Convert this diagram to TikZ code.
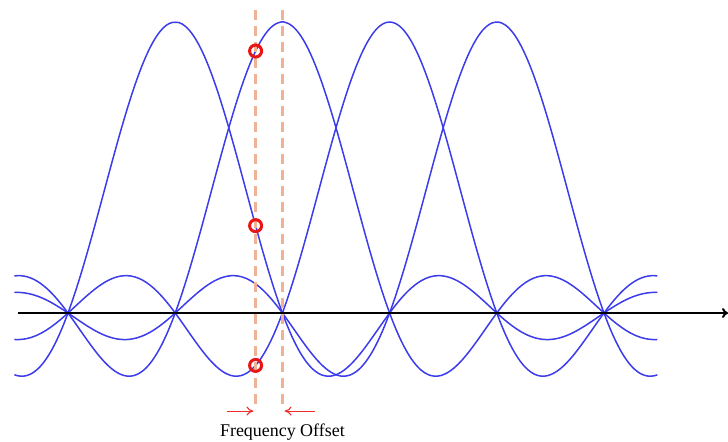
\documentclass[tikz,border=0pt]{standalone}
\usepackage{fontspec}
\setmainfont{Liberation Serif}
\usepackage{tikz}
\usetikzlibrary{arrows.meta}

\definecolor{carrierblue}{RGB}{60,60,235}
\definecolor{offsetorange}{RGB}{240,178,148}
\definecolor{markred}{RGB}{235,20,20}

\begin{document}
\begin{tikzpicture}[
        x=107.2bp, y=291bp,
        font=\fontsize{18}{21}\selectfont,
        carrier/.style={draw=carrierblue, line width=1.5bp, smooth, domain=-0.5:5.5, samples=200},
        axis/.style={draw=black, line width=2bp, -{To[length=6bp, width=10bp]}},
        offsetline/.style={draw=offsetorange, line width=3.5bp, dash pattern=on 10bp off 6bp},
        marker/.style={circle, draw=markred, line width=3bp, minimum size=12bp, inner sep=0pt},
        offsetarrow/.style={draw=markred!90, line width=1.1bp, -{To[length=7bp, width=9bp]}}
      ]
      \useasboundingbox (-0.6343,-0.4399) rectangle (6.1567,1.0756);

      \foreach \c in {1,2,3,4}
        \draw[carrier] plot (\x, {sin(180*(\x-\c))/(3.14159*(\x-\c))});

      \coordinate (axis-start) at (-0.466,0);
      \coordinate (axis-end) at (6.157,0);
      \draw[axis] (axis-start) -- (axis-end);

      \coordinate (rx-top) at (1.75,1.041);
      \coordinate (rx-bottom) at (1.75,-0.33);
      \coordinate (tx-top) at (2,1.041);
      \coordinate (tx-bottom) at (2,-0.33);
      \draw[offsetline] (rx-top) -- (rx-bottom);
      \draw[offsetline] (tx-top) -- (tx-bottom);

      \node[marker] (m1) at (1.75,0.9003) {};
      \node[marker] (m2) at (1.75,0.3001) {};
      \node[marker] (m3) at (1.75,-0.1801) {};

      \coordinate (left-from) at (1.483,-0.337);
      \coordinate (left-to) at (1.73,-0.337);
      \coordinate (right-from) at (2.304,-0.337);
      \coordinate (right-to) at (2.02,-0.337);
      \draw[offsetarrow] (left-from) -- (left-to);
      \draw[offsetarrow] (right-from) -- (right-to);

      \node (label) at (2,-0.408) {Frequency Offset};
    \end{tikzpicture}
\end{document}
